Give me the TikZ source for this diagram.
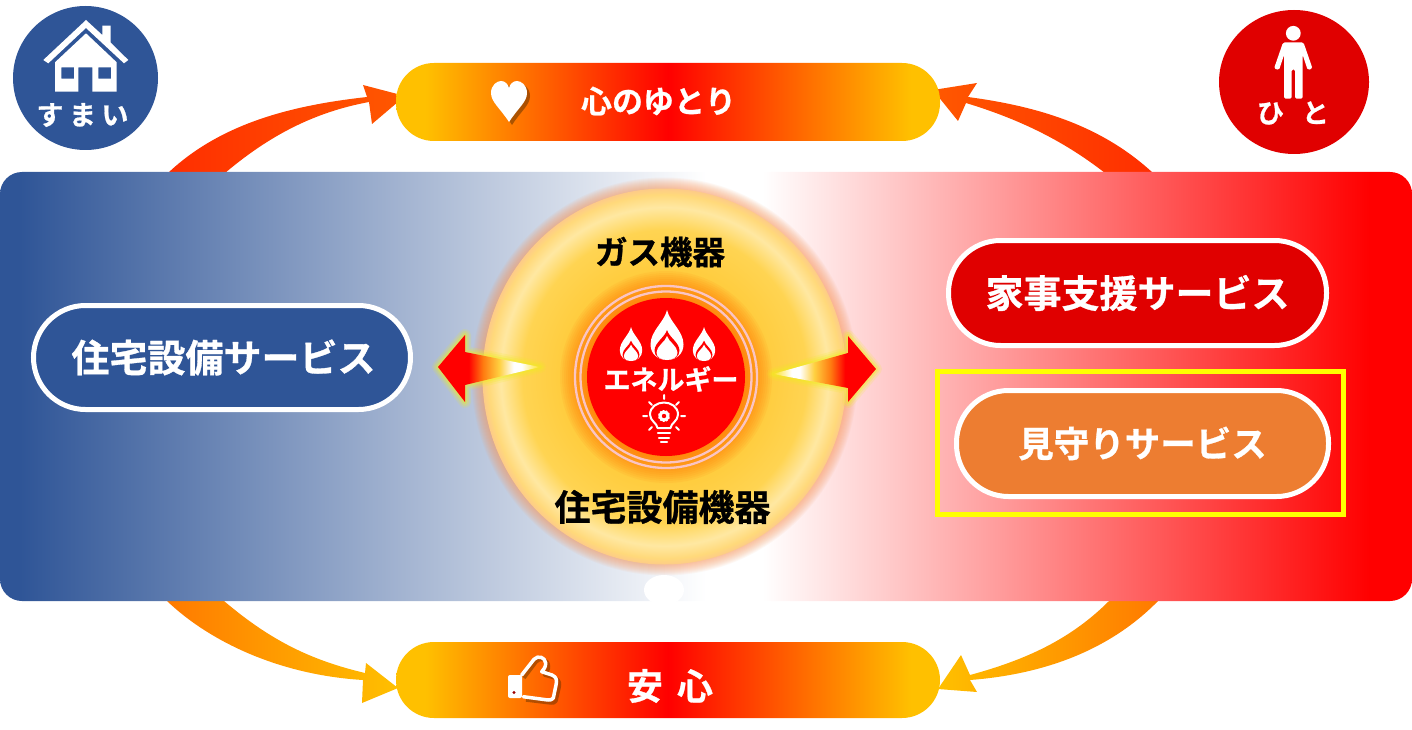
\documentclass[tikz,border=0pt]{standalone}
\usepackage{fontspec}
\newfontfamily\cjk[FakeBold=0.8]{Noto Sans CJK JP Bold}
\usetikzlibrary{shapes.geometric}
\definecolor{cblue}{HTML}{2F5597}
\definecolor{cdred}{HTML}{E00000}
\definecolor{corange}{HTML}{ED7D31}
\definecolor{cgold}{HTML}{FFC000}
\definecolor{cpure}{HTML}{FF0000}
\definecolor{cr1}{HTML}{FFCA38}
\definecolor{cr2}{HTML}{FFD452}
\definecolor{cr3}{HTML}{FFE8A2}
\definecolor{cr4}{HTML}{FFD97A}
\definecolor{cr5}{HTML}{FDCB88}
\definecolor{cy1}{HTML}{FFD040}
\definecolor{cy2}{HTML}{FFE020}
\definecolor{cor}{HTML}{FF7A10}
\pgfdeclarehorizontalshading{bgshade}{100bp}{color(0bp)=(cblue); color(25.7bp)=(cblue); color(50bp)=(white); color(52bp)=(white); color(73.5bp)=(cpure); color(100bp)=(cpure)}
\pgfdeclarehorizontalshading{pillshade}{100bp}{color(0bp)=(cgold); color(27.7bp)=(cgold); color(50bp)=(cpure); color(72.3bp)=(cgold); color(100bp)=(cgold)}
\pgfdeclarehorizontalshading{leftarrowshade}{100bp}{color(0bp)=(cpure); color(40bp)=(cpure); color(47bp)=(cor); color(55bp)=(cy1); color(62bp)=(white); color(66bp)=(white); color(75bp)=(cy2); color(100bp)=(cy2)}
\pgfdeclarehorizontalshading{rightarrowshade}{100bp}{color(0bp)=(cy2); color(25bp)=(cy2); color(34bp)=(white); color(38bp)=(white); color(45bp)=(cy1); color(53bp)=(cor); color(60bp)=(cpure); color(100bp)=(cpure)}
\pgfdeclareradialshading{ringshade}{\pgfpoint{0bp}{0bp}}{color(0bp)=(cr1); color(12.5bp)=(cr1); color(19.5bp)=(cr2); color(22.5bp)=(cr3); color(24.2bp)=(cr4); color(25bp)=(cr5); color(50bp)=(cr5)}
\tikzset{
 svcpill/.style={draw=white,line width=5pt,rounded corners=52pt,inner sep=0pt,text=white},
 lab/.style={inner sep=0pt,font=\cjk},
 band/.style={shade,shading=pillshade,rounded corners=38pt,inner sep=0pt,minimum width=544pt},
 badge/.style={ellipse,inner sep=0pt},
 iconline/.style={draw=white,line width=2pt,line cap=round,line join=round},
}
\newcommand{\fs}[1]{\fontsize{#1}{#1}\selectfont}
\newcommand{\dropshape}[3]{(0,-#1) .. controls ({0.16*#2},{-0.76*#1}) and (#2,{-0.58*#1}) .. (#2,{-0.31*#1}) .. controls (#2,{-0.12*#1}) and ({0.55*#2},#3) .. (0,#3) .. controls ({-0.55*#2},#3) and (-#2,{-0.12*#1}) .. (-#2,{-0.31*#1}) .. controls (-#2,{-0.58*#1}) and ({-0.16*#2},{-0.76*#1}) .. cycle}
\newcommand{\flameicon}[3]{\begin{scope}[shift={(#1,#2)},scale=#3]
 \fill[white] \dropshape{50}{16.5}{0};
 \fill[cpure] \dropshape{30}{12.5}{0};
 \fill[white] \dropshape{24}{10.5}{0};
\end{scope}}
\begin{document}
\begin{tikzpicture}[x=1pt,y=-1pt]
\useasboundingbox (0,0) rectangle (1412,730);
% curved arrows
\path[left color={rgb,255:red,255;green,46;blue,0},right color={rgb,255:red,255;green,88;blue,0}]
 (168,173) .. controls (222,122) and (295,105) .. (367,97) -- (363,85) -- (405,96) -- (372,124) -- (369,102) .. controls (315,112) and (270,135) .. (225,173) -- cycle;
\path[right color={rgb,255:red,255;green,46;blue,0},left color={rgb,255:red,255;green,88;blue,0}]
 (1153,173) .. controls (1100,124) and (1035,106) .. (968,97) -- (977,83) -- (933,90) -- (958,121) -- (966,103) .. controls (1015,118) and (1060,138) .. (1105,173) -- cycle;
\path[left color={rgb,255:red,255;green,122;blue,0},right color=cgold]
 (167,601) .. controls (210,642) and (280,675) .. (363,680) -- (362,703) -- (398,688) -- (366,663) -- (365,673) .. controls (310,660) and (270,640) .. (224,601) -- cycle;
\path[right color={rgb,255:red,255;green,122;blue,0},left color=cgold]
 (1158,601) .. controls (1112,648) and (1048,674) .. (970,680) -- (977,692) -- (938,689) -- (961,655) -- (970,675) .. controls (1025,660) and (1070,640) .. (1109,601) -- cycle;
% badges
\node[badge,fill=cblue,minimum width=145pt,minimum height=144pt] (sumai) at (85.5,78) {};
\node[badge,fill=cdred,minimum width=150pt,minimum height=144pt] (hito) at (1294,82) {};
\fill[white] (43.3,60) -- (86,20) -- (102.3,35) -- (102.3,25.7) -- (110.7,25.7) -- (110.7,42.7) -- (128.3,60) -- (124,63.3) -- (86,28) -- (48.3,63.3) -- cycle;
\fill[white,even odd rule] (55,62.3) -- (86,33.3) -- (116.7,62.3) -- (116.7,91.7) -- (92.3,91.7) -- (92.3,67.3) -- (78.3,67.3) -- (78.3,91.7) -- (55,91.7) -- cycle
 (61.3,67.3) rectangle (74,78.7) (98.3,67.3) rectangle (111,78.7);
\node[lab,text=white,font=\cjk\fs{27}] (sumaitext) at (82.5,115) {す\hspace{5.5pt}ま\hspace{5.5pt}い};
\fill[white] (1293.3,33.3) circle (7.4);
\fill[white,rounded corners=1.5pt] (1283,42.5) -- (1303.5,42.5) -- (1312.5,68.5) -- (1307.7,70) -- (1302.7,55) -- (1302.7,98.7) -- (1295,98.7) -- (1295,69.3) -- (1291.7,69.3) -- (1291.7,98.7) -- (1284,98.7) -- (1284,55) -- (1279,70) -- (1274,68.5) -- cycle;
\node[lab,text=white,font=\cjk\fs{27}] (hitotext) at (1293,113) {ひ\hspace{18pt}と};
% background panel
\node[shade,shading=bgshade,rounded corners=22pt,inner sep=0pt,minimum width=1412pt,minimum height=429pt] (panel) at (706,386.5) {};
% ring
\foreach \i in {1,...,12}{\fill[fill={rgb,255:red,250;green,150;blue,90},opacity=.065] (664.5,376.5) ellipse ({181+\i} and {187+\i});}
% bump below the ring
\fill[white] (664,590) ellipse (20 and 15);
\node[ellipse,shade,shading=ringshade,minimum width=364pt,minimum height=376pt,inner sep=0pt] (ring) at (664.5,376.5) {};
% central disc
\foreach \r in {80,82,...,106}{\fill[fill={rgb,255:red,255;green,112;blue,0},opacity=.08] (666,377) circle (\r);}
\node[circle,draw={rgb,255:red,250;green,196;blue,196},line width=2.3pt,minimum size=182pt,inner sep=0pt] (ringa) at (666,377) {};
\node[circle,draw={rgb,255:red,250;green,196;blue,196},line width=2.3pt,minimum size=171pt,inner sep=0pt] (ringb) at (666,377) {};
\node[circle,fill=cpure,minimum size=158pt,inner sep=0pt] (disc) at (666,377) {};
\flameicon{631}{361}{0.68}
\flameicon{704}{361}{0.68}
\flameicon{667}{360}{1}
\node[lab,text=white,font=\cjk\fs{27}] (energy) at (671,379) {エネルギー};
% bulb
\draw[iconline] (657.5,428) .. controls (657,423) and (650,421) .. (650,414.5) .. controls (650,407) and (657,402.5) .. (664,402.5) .. controls (671,402.5) and (678,407) .. (678,414.5) .. controls (678,421) and (671,423) .. (670.5,428) -- cycle;
\fill[white] (664,416) circle (6);
\draw[cpure,line width=1.2pt,dash pattern=on 1.5pt off 2.2pt] (664,416) circle (6.2);
\fill[cpure] (664,416) circle (2.2);
\draw[iconline,line width=2.4pt] (658,433) -- (670,433) (659,438) -- (669,438);
\draw[iconline,line width=2.4pt] (661,442) -- (667,442);
\draw[iconline] (664,395) -- (664,399) (649,402) -- (652,405) (679,402) -- (676,405) (643,416) -- (647,416) (681,416) -- (685,416) (649,430) -- (652,427) (679,430) -- (676,427);
% side arrows
\foreach \w/\o in {12/.15,8/.22,4/.35}{
\draw[draw={rgb,255:red,240;green,240;blue,30},opacity=\o,line width=\w pt,line join=round] (438,367) -- (465,335) -- (465,352) -- (540,367) -- (465,385) -- (465,402) -- cycle;
\draw[draw={rgb,255:red,240;green,240;blue,30},opacity=\o,line width=\w pt,line join=round] (876,369) -- (848,336) -- (848,353) -- (773,374) -- (848,388) -- (848,402) -- cycle;
}
\path[shade,shading=leftarrowshade] (438,367) -- (465,335) -- (465,352) -- (540,367) -- (465,385) -- (465,402) -- cycle;
\path[shade,shading=rightarrowshade] (876,369) -- (848,336) -- (848,353) -- (773,374) -- (848,388) -- (848,402) -- cycle;
% labels
\node[lab,font=\cjk\fs{32.5}] (gas) at (660,252) {ガス機器};
\node[lab,font=\cjk\fs{36}] (setsubi) at (662.5,507) {住宅設備機器};
% service pills
\node[svcpill,fill=cblue,minimum width=377pt,minimum height=104pt,font=\cjk\fs{38}] (svc1) at (222,357.5) {\hspace{3pt}住宅設備サービス};
\node[svcpill,fill=cdred,minimum width=378pt,minimum height=105pt,font=\cjk\fs{38}] (svc2) at (1137.5,293) {家事支援サービス};
\node[svcpill,fill=corange,minimum width=372pt,minimum height=106pt,font=\cjk\fs{35.5}] (svc3) at (1142.5,443.5) {見守りサービス};
\node[draw={rgb,255:red,255;green,255;blue,0},line width=5pt,minimum width=406pt,minimum height=143pt,inner sep=0pt] (frame) at (1140.5,443) {};
% top and bottom bands
\node[band,minimum height=78pt] (top) at (668,102) {};
\node[band,minimum height=76pt] (bottom) at (668,680) {};
\node[lab,text=white,font=\cjk\fs{31}] (yutori) at (658.5,101) {心のゆとり};
\node[lab,text=white,font=\cjk\fs{36}] (anshin) at (670,686) {安\hspace{14pt}心};
% heart
\fill[black!60!orange,opacity=.55] (512,125) .. controls (503,111) and (494,105) .. (494,96) .. controls (494,88) and (500,84) .. (504,84) .. controls (508,84) and (511,87) .. (512,91) .. controls (513,87) and (516,84) .. (520,84) .. controls (524,84) and (530,88) .. (530,96) .. controls (530,105) and (521,111) .. (512,125) -- cycle;
\fill[white] (509,122) .. controls (500,108) and (491,102) .. (491,93) .. controls (491,85) and (497,81) .. (501,81) .. controls (505,81) and (508,84) .. (509,88) .. controls (510,84) and (513,81) .. (517,81) .. controls (521,81) and (527,85) .. (527,93) .. controls (527,102) and (518,108) .. (509,122) -- cycle;
% thumb
\draw[black!60!orange,opacity=.5,line width=3.5pt,line join=round] (524,678) -- (536,662) .. controls (540,657) and (548,659) .. (548.5,666) .. controls (549,670) and (546,673) .. (544.5,675) -- (555,678) .. controls (560,680) and (560,684) .. (559,688) -- (556,701) .. controls (555,703) and (553,703) .. (551,703) -- (526,700);
\draw[white,line width=3.5pt,line join=round,line cap=round] (521.7,675) -- (534,659.3) .. controls (538,655) and (545,657) .. (545.7,663) .. controls (546,667) and (543,670) .. (541.7,671.7) -- (552,675) .. controls (557,677) and (557,681) .. (556,685) -- (553.3,698) .. controls (552,700) and (550,700) .. (548,700) -- (523.3,696.7);
\fill[white,rounded corners=2pt] (508,675) rectangle (522,698);
\fill[cdred!70!black] (514,692.5) circle (1.6);
\end{tikzpicture}
\end{document}
